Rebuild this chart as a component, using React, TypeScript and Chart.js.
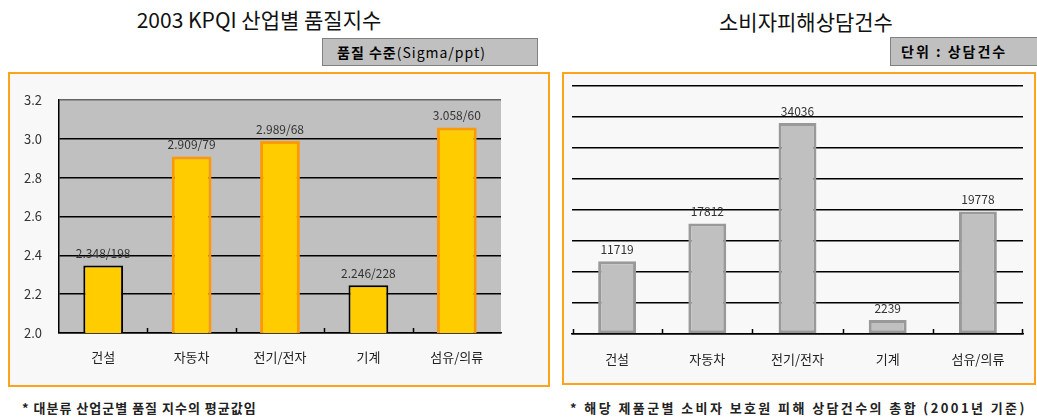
import React, { useEffect, useRef } from "react";
import { Chart, registerables } from "chart.js";

Chart.register(...registerables);

// ---------- data ----------
const categories = ["건설", "자동차", "전기/전자", "기계", "섬유/의류"];

const qualityIndex = [2.348, 2.909, 2.989, 2.246, 3.058];
const qualityLabels = ["2.348/198", "2.909/79", "2.989/68", "2.246/228", "3.058/60"];
const qualityMin = 2.0;
const qualityMax = 3.2;
const qualityStep = 0.2;

const complaintCounts = [11719, 17812, 34036, 2239, 19778];
const complaintLabels = ["11719", "17812", "34036", "2239", "19778"];
const complaintMax = 40000;
const complaintStep = 5000;

const leftTitle = "2003 KPQI 산업별 품질지수";
const rightTitle = "소비자피해상담건수";
const leftUnitBold = "품질 수준";
const leftUnitRest = "(Sigma/ppt)";
const rightUnit = "단위 : 상담건수";
const leftNote = "* 대분류 산업군별 품질 지수의 평균값임";
const rightNote = "* 해당 제품군별 소비자 보호원 피해 상담건수의 총합 (2001년 기준)";

const FONT = '"Noto Sans CJK KR", "Noto Sans", sans-serif';

// ---------- plugins ----------
const plotBgBehindGrid = {
  id: "plotBgBehindGrid",
  beforeDraw(chart: any, _args: any, opts: any) {
    if (!opts || !opts.color) return;
    const { ctx, chartArea } = chart;
    ctx.save();
    ctx.fillStyle = opts.color;
    ctx.fillRect(chartArea.left, chartArea.top, chartArea.width, chartArea.height);
    ctx.restore();
  },
};

// small inward tick marks at category boundaries on the x axis
const innerTicks = {
  id: "innerTicks",
  afterDatasetsDraw(chart: any, _args: any, opts: any) {
    const scale = chart.scales.x;
    const { ctx, chartArea } = chart;
    const n = scale.ticks.length;
    ctx.save();
    ctx.strokeStyle = (opts && opts.color) || "#000";
    ctx.lineWidth = (opts && opts.width) || 1.5;
    const len = (opts && opts.length) || 5;
    const xs: number[] = [];
    for (let i = 0; i < n - 1; i++) {
      xs.push((scale.getPixelForTick(i) + scale.getPixelForTick(i + 1)) / 2);
    }
    if (opts && opts.edges) {
      xs.push(chartArea.left + 1, chartArea.right - 1);
    }
    xs.forEach((xv) => {
      const x = Math.round(xv) + 0.5;
      ctx.beginPath();
      ctx.moveTo(x, chartArea.bottom);
      ctx.lineTo(x, chartArea.bottom - len);
      ctx.stroke();
    });
    ctx.restore();
  },
};

const valueLabels = {
  id: "valueLabels",
  afterDatasetsDraw(chart: any, _args: any, opts: any) {
    if (!opts || !opts.labels) return;
    const { ctx } = chart;
    const meta = chart.getDatasetMeta(0);
    ctx.save();
    ctx.font = opts.font;
    ctx.fillStyle = opts.color;
    ctx.textAlign = "center";
    ctx.textBaseline = "bottom";
    meta.data.forEach((bar: any, i: number) => {
      ctx.fillText(opts.labels[i], bar.x, bar.y - opts.offset);
    });
    ctx.restore();
  },
};

function QualityChart() {
  const ref = useRef<HTMLCanvasElement | null>(null);
  useEffect(() => {
    if (!ref.current) return;
    const chart = new Chart(ref.current, {
      type: "bar",
      data: {
        labels: categories,
        datasets: [
          {
            data: qualityIndex,
            backgroundColor: "#FFCC00",
            borderColor: ["#000000", "#FF9900", "#FF9900", "#000000", "#FF9900"],
            borderWidth: [2, 3, 3, 2, 3],
            borderSkipped: false,
            barPercentage: 0.45,
            categoryPercentage: 1,
          },
        ],
      },
      plugins: [plotBgBehindGrid, innerTicks, valueLabels],
      options: {
        responsive: false,
        animation: false,
        devicePixelRatio: 1,
        layout: { padding: { top: 26, right: 47, left: 0, bottom: 0 } },
        plugins: {
          legend: { display: false },
          tooltip: { enabled: false },
          plotBgBehindGrid: { color: "#C0C0C0" },
          innerTicks: { color: "#000000", width: 1.5, length: 5, edges: false },
          valueLabels: {
            labels: qualityLabels,
            font: `12px ${FONT}`,
            color: "#333333",
            offset: 6,
          },
        } as any,
        scales: {
          x: {
            grid: { display: false, drawTicks: false },
            border: { display: true, color: "#000000", width: 1.5 },
            ticks: {
              color: "#222222",
              font: { family: FONT, size: 13 },
              padding: 16,
              maxRotation: 0,
            },
            afterFit: (s: any) => {
              s.height = 52;
            },
          },
          y: {
            min: qualityMin,
            max: qualityMax,
            grid: {
              color: (c: any) => (c.tick && Math.abs(c.tick.value - qualityMax) < 1e-6 ? "#666666" : "#000000"),
              lineWidth: 1.5,
              drawTicks: false,
            },
            border: { display: true, color: "#000000", width: 1.5 },
            ticks: {
              stepSize: qualityStep,
              color: "#333333",
              font: { family: FONT, size: 13 },
              padding: 17,
              callback: (v: any) => Number(v).toFixed(1),
            },
            afterFit: (s: any) => {
              s.width = 49;
            },
          },
        },
      } as any,
    });
    return () => chart.destroy();
  }, []);
  return <canvas ref={ref} width={538} height={311} style={{ position: "absolute", left: 10, top: 74, width: 538, height: 311 }} />;
}

function ComplaintChart() {
  const ref = useRef<HTMLCanvasElement | null>(null);
  useEffect(() => {
    if (!ref.current) return;
    const chart = new Chart(ref.current, {
      type: "bar",
      data: {
        labels: categories,
        datasets: [
          {
            data: complaintCounts,
            backgroundColor: "#C0C0C0",
            borderColor: "#999999",
            borderWidth: 3,
            borderSkipped: false,
            barPercentage: 0.42,
            categoryPercentage: 1,
          },
        ],
      },
      plugins: [innerTicks, valueLabels],
      options: {
        responsive: false,
        animation: false,
        devicePixelRatio: 1,
        layout: { padding: { top: 12, right: 11, left: 0, bottom: 0 } },
        plugins: {
          legend: { display: false },
          tooltip: { enabled: false },
          innerTicks: { color: "#000000", width: 1.5, length: 5, edges: true },
          valueLabels: {
            labels: complaintLabels,
            font: `12px ${FONT}`,
            color: "#333333",
            offset: 6,
          },
        } as any,
        scales: {
          x: {
            grid: { display: false, drawTicks: false },
            border: { display: true, color: "#000000", width: 1.5 },
            ticks: {
              color: "#222222",
              font: { family: FONT, size: 13 },
              padding: 17,
              maxRotation: 0,
            },
            afterFit: (s: any) => {
              s.height = 49;
            },
          },
          y: {
            min: 0,
            max: complaintMax,
            grid: {
              color: "#000000",
              lineWidth: 1.5,
              drawTicks: false,
            },
            border: { display: false },
            ticks: {
              display: false,
              stepSize: complaintStep,
            },
            afterFit: (s: any) => {
              s.width = 8;
            },
          },
        },
      } as any,
    });
    return () => chart.destroy();
  }, []);
  return <canvas ref={ref} width={470} height={309} style={{ position: "absolute", left: 564, top: 74, width: 470, height: 309 }} />;
}

export default function App() {
  const abs: React.CSSProperties = { position: "absolute", whiteSpace: "nowrap" };
  return (
    <div
      style={{
        position: "absolute",
        left: 0,
        top: 0,
        width: 1037,
        height: 420,
        background: "#ffffff",
        fontFamily: FONT,
        overflow: "hidden",
      }}
    >
      {/* titles */}
      <div style={{ ...abs, left: 0, width: 518, top: 4, textAlign: "center", fontSize: 21, color: "#111", lineHeight: "30px" }}>
        {leftTitle}
      </div>
      <div style={{ ...abs, left: 575, width: 462, top: 6, textAlign: "center", fontSize: 21, color: "#111", lineHeight: "30px" }}>
        {rightTitle}
      </div>

      {/* unit boxes */}
      <div
        style={{
          ...abs,
          left: 322,
          top: 38,
          width: 216,
          height: 28,
          boxSizing: "border-box",
          background: "#C0C0C0",
          border: "1px solid #808080",
          fontSize: 14,
          lineHeight: "26px",
          paddingLeft: 14,
          letterSpacing: 1,
          color: "#000",
        }}
      >
        <b>{leftUnitBold}</b>
        <span>{leftUnitRest}</span>
      </div>
      <div
        style={{
          ...abs,
          left: 890,
          top: 37,
          width: 160,
          height: 29,
          boxSizing: "border-box",
          background: "#C0C0C0",
          border: "1px solid #808080",
          fontSize: 14,
          lineHeight: "27px",
          paddingLeft: 10,
          letterSpacing: 2,
          fontWeight: 700,
          color: "#000",
        }}
      >
        {rightUnit}
      </div>

      {/* panels */}
      <div
        style={{
          position: "absolute",
          left: 8,
          top: 72,
          width: 542,
          height: 315,
          boxSizing: "border-box",
          border: "2px solid #FFA31A",
          background: "#F8F8F8",
        }}
      />
      <div
        style={{
          position: "absolute",
          left: 562,
          top: 72,
          width: 474,
          height: 313,
          boxSizing: "border-box",
          border: "2px solid #FFA31A",
          background: "#F8F8F8",
        }}
      />

      <QualityChart />
      <ComplaintChart />

      {/* footnotes */}
      <div style={{ ...abs, left: 22, top: 399, fontSize: 13, lineHeight: "18px", fontWeight: 700, letterSpacing: 1, color: "#222" }}>
        {leftNote}
      </div>
      <div style={{ ...abs, left: 570, top: 399, fontSize: 13, lineHeight: "18px", fontWeight: 700, letterSpacing: 2.4, color: "#222" }}>
        {rightNote}
      </div>
    </div>
  );
}
